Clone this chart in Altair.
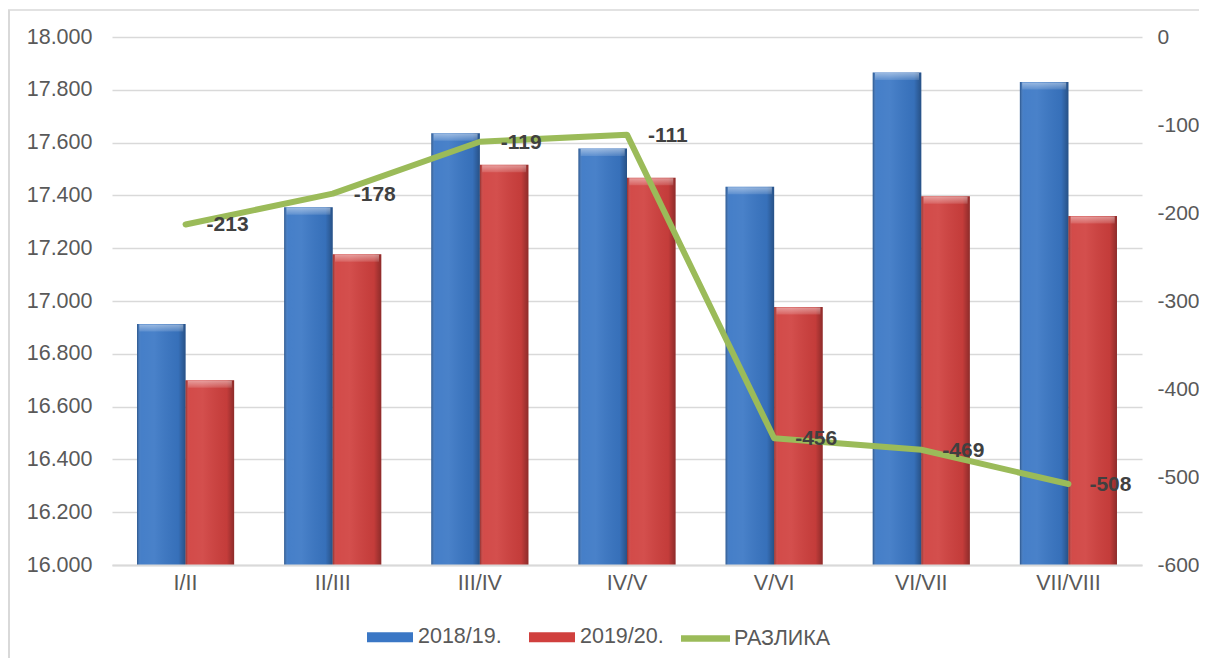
import altair as alt
import pandas as pd

categories = ["I/II", "II/III", "III/IV", "IV/V", "V/VI", "VI/VII", "VII/VIII"]
series_names = ["2018/19.", "2019/20."]
values_2018 = [16913, 17355, 17635, 17578, 17433, 17866, 17830]
values_2019 = [16700, 17177, 17516, 17467, 16977, 17397, 17322]
diff_name = "РАЗЛИКА"
diff_values = [-213, -178, -119, -111, -456, -469, -508]
left_ticks = list(range(16000, 18001, 200))
right_ticks = list(range(-600, 1, 100))

FONT = "Liberation Sans"
GRAY = "#595959"
GREEN = "#9bbb59"

bars_df = pd.DataFrame(
    [{"cat": c, "series": series_names[0], "v": v} for c, v in zip(categories, values_2018)]
    + [{"cat": c, "series": series_names[1], "v": v} for c, v in zip(categories, values_2019)]
)
diff_df = pd.DataFrame({
    "cat": categories,
    "d": diff_values,
    "name": [diff_name] * len(categories),
    "label": [str(v) for v in diff_values],
})

x_enc = alt.X(
    "cat:N", sort=categories,
    scale=alt.Scale(paddingInner=0.34, paddingOuter=0.17),
    axis=alt.Axis(title=None, labelAngle=0, ticks=False, domainColor="#d9d9d9",
                  domainWidth=2, labelPadding=7, grid=False, zindex=1),
)
xo_enc = alt.XOffset("series:N", sort=series_names)
y_bar = alt.Y(
    "v:Q",
    scale=alt.Scale(domain=[16000, 18000], zero=False, nice=False),
    axis=alt.Axis(title=None, values=left_ticks, domain=False, ticks=False,
                  labelPadding=20, gridColor="#d9d9d9", gridWidth=1.3,
                  labelExpr="replace(format(datum.value, ','), ',', '.')"),
)

bars = alt.Chart(bars_df).mark_bar(clip=True).encode(
    x=x_enc, xOffset=xo_enc, y=y_bar,
    color=alt.Color(
        "series:N", sort=series_names,
        scale=alt.Scale(domain=series_names, range=["#3a77c5", "#d0403e"]),
        legend=alt.Legend(title=None, orient="none", legendX=255, legendY=577,
                          direction="horizontal", symbolType="M-1,-0.22H1V0.22H-1Z",
                          symbolSize=2116, symbolStrokeWidth=0, labelOffset=5,
                          columnPadding=27, symbolOpacity=1),
    ),
)

shade = alt.Chart(bars_df).mark_bar(
    clip=True,
    color=alt.Gradient(
        gradient="linear", x1=0, x2=1, y1=0, y2=0,
        stops=[
            alt.GradientStop(offset=0, color="rgba(0,0,0,0.30)"),
            alt.GradientStop(offset=0.08, color="rgba(255,255,255,0.06)"),
            alt.GradientStop(offset=0.35, color="rgba(255,255,255,0.08)"),
            alt.GradientStop(offset=0.85, color="rgba(0,0,0,0.06)"),
            alt.GradientStop(offset=1, color="rgba(0,0,0,0.32)"),
        ],
    )
).encode(x=alt.X("cat:N", sort=categories), xOffset=xo_enc, y=alt.Y("v:Q"))

bevel = alt.Chart(bars_df).mark_tick(
    clip=True, thickness=7, yOffset=4,
    color=alt.Gradient(
        gradient="linear", x1=0, x2=0, y1=0, y2=1,
        stops=[
            alt.GradientStop(offset=0, color="rgba(255,255,255,0.45)"),
            alt.GradientStop(offset=1, color="rgba(255,255,255,0.12)"),
        ],
    ),
    opacity=1,
).encode(
    x=alt.X("cat:N", sort=categories), xOffset=xo_enc, y=alt.Y("v:Q"),
    size=alt.value(44),
)

bar_layer = alt.layer(bars, shade, bevel)

y_line = alt.Y(
    "d:Q",
    scale=alt.Scale(domain=[-600, 0], nice=False, zero=False),
    axis=alt.Axis(title=None, orient="right", values=right_ticks, domain=False,
                  ticks=False, grid=False, labelPadding=15, labelFontSize=21,
                  labelExpr="datum.value == 0 ? '0' : '-' + format(abs(datum.value), 'd')"),
)

line = alt.Chart(diff_df).mark_line(strokeWidth=6, strokeCap="round", strokeJoin="round").encode(
    x=alt.X("cat:N", sort=categories),
    y=y_line,
    stroke=alt.Stroke(
        "name:N",
        scale=alt.Scale(domain=[diff_name], range=[GREEN]),
        legend=alt.Legend(title=None, orient="none", legendX=569, legendY=577,
                          direction="horizontal",
                          symbolType="M-1,-0.13H1V0.13H-1Z", symbolSize=2401,
                          symbolFillColor=GREEN, symbolStrokeWidth=0,
                          labelOffset=4),
    ),
)

labels = alt.Chart(diff_df).mark_text(
    align="left", baseline="middle", dx=21, dy=1, font=FONT, fontSize=21,
    fontWeight="bold", color="#404040",
).encode(
    x=alt.X("cat:N", sort=categories),
    y=alt.Y("d:Q"),
    text="label:N",
)

line_layer = alt.layer(line, labels)

frame_top = alt.Chart(pd.DataFrame({"k": [0]})).mark_rule(color="#d9d9d9", strokeWidth=1.5).encode(
    x=alt.value(-104), x2=alt.value(1100), y=alt.value(-27)
)
frame_left = alt.Chart(pd.DataFrame({"k": [0]})).mark_rule(color="#d9d9d9", strokeWidth=2).encode(
    x=alt.value(-103), y=alt.value(-27), y2=alt.value(640)
)

chart = alt.layer(bar_layer, line_layer, frame_top, frame_left).resolve_scale(
    y="independent"
).properties(
    width=1030, height=528,
    autosize=alt.AutoSizeParams(type="none"),
    padding={"left": 104, "top": 29, "right": 57, "bottom": 93},
).configure_view(stroke=None).configure_axis(
    labelFont=FONT, labelFontSize=21.5, labelColor=GRAY,
).configure_legend(
    labelFont=FONT, labelFontSize=21.5, labelColor=GRAY,
)

chart.save("out.html", embed_options={"renderer": "svg", "actions": False})
